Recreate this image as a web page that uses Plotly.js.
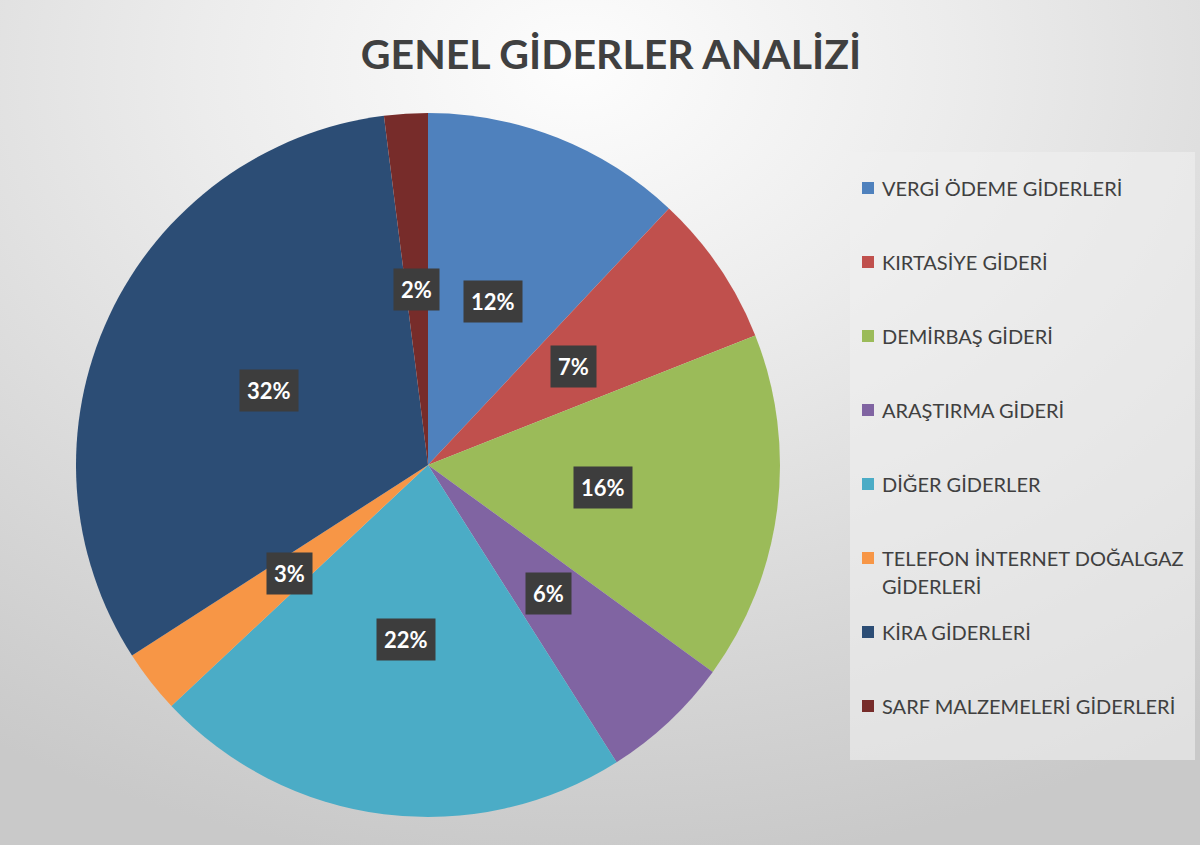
<!DOCTYPE html>
<html>
<head>
<meta charset="utf-8">
<script src="https://cdn.plot.ly/plotly-3.0.1.min.js"></script>
<style>
  html, body { margin: 0; padding: 0; }
  body {
    width: 1200px; height: 845px; overflow: hidden;
    background: radial-gradient(ellipse 90% 95% at 48% 8%, #fdfdfd 0%, #ececec 35%, #d6d6d6 75%, #c9c9c9 100%);
  }
  #chart { width: 1200px; height: 845px; }
</style>
</head>
<body>
<div id="chart"></div>
<script>
// ---- data ----
const categories = [
  "VERGİ ÖDEME GİDERLERİ",
  "KIRTASİYE GİDERİ",
  "DEMİRBAŞ GİDERİ",
  "ARAŞTIRMA GİDERİ",
  "DİĞER GİDERLER",
  "TELEFON İNTERNET DOĞALGAZ GİDERLERİ",
  "KİRA GİDERLERİ",
  "SARF MALZEMELERİ GİDERLERİ"
];
const values = [12, 7, 16, 6, 22, 2.9, 32.1, 2];
const colors = ["#4F81BD", "#C0504D", "#9BBB59", "#8064A2", "#4BACC6", "#F79646", "#2C4D75", "#772C2A"];
const chartTitle = "GENEL GİDERLER ANALİZİ";

// ---- layout constants ----
const W = 1200, H = 845;
const cx = 428, cy = 465, R = 352;
const domX = [(cx - R) / W, (cx + R) / W];
const domY = [1 - (cy + R) / H, 1 - (cy - R) / H];
const FONT = "Lato, 'Open Sans', sans-serif";

const total = values.reduce((a, b) => a + b, 0);

const trace = {
  type: "pie",
  labels: categories,
  values: values,
  sort: false,
  direction: "clockwise",
  rotation: 0,
  marker: { colors: colors, line: { width: 0 } },
  textinfo: "none",
  hoverinfo: "label+percent",
  domain: { x: domX, y: domY },
  showlegend: false
};

const annotations = [];
const shapes = [];

// data labels at half radius, mid-angle of each slice
let cum = 0;
values.forEach((v, i) => {
  const theta = (cum + v / 2) / total * 2 * Math.PI;
  cum += v;
  const px = cx + 0.5 * R * Math.sin(theta);
  const py = cy - 0.5 * R * Math.cos(theta);
  annotations.push({
    xref: "paper", yref: "paper",
    x: px / W, y: 1 - py / H,
    xanchor: "center", yanchor: "middle",
    text: "<b>" + Math.round(v / total * 100) + "%</b>",
    showarrow: false,
    font: { family: FONT, size: 22, color: "#ffffff" },
    bgcolor: "#3d3d3d",
    borderpad: 7
  });
});

// legend box
const LG = { x0: 850, x1: 1195, y0: 152, y1: 760, top: 188, step: 74, line: 28, sq: 12, sqx: 862, tx: 880 };
shapes.push({
  type: "rect", xref: "paper", yref: "paper",
  x0: LG.x0 / W, x1: LG.x1 / W, y0: 1 - LG.y1 / H, y1: 1 - LG.y0 / H,
  fillcolor: "rgba(240,240,240,0.6)", line: { width: 0 }, layer: "below"
});

function wrap(label, maxLen) {
  const words = label.split(" ");
  const lines = [];
  let cur = "";
  words.forEach(w => {
    if (cur && (cur + " " + w).length > maxLen) { lines.push(cur); cur = w; }
    else cur = cur ? cur + " " + w : w;
  });
  if (cur) lines.push(cur);
  return lines;
}

categories.forEach((c, i) => {
  const yc = LG.top + i * LG.step;
  shapes.push({
    type: "rect", xref: "paper", yref: "paper",
    x0: LG.sqx / W, x1: (LG.sqx + LG.sq) / W,
    y0: 1 - (yc + LG.sq / 2) / H, y1: 1 - (yc - LG.sq / 2) / H,
    fillcolor: colors[i], line: { width: 0 }
  });
  wrap(c, 26).forEach((ln, k) => {
    annotations.push({
      xref: "paper", yref: "paper",
      x: LG.tx / W, y: 1 - (yc + k * LG.line) / H,
      xanchor: "left", yanchor: "middle",
      text: ln, showarrow: false,
      font: { family: FONT, size: 20, color: "#404040" }
    });
  });
});

const layout = {
  width: W, height: H,
  margin: { l: 0, r: 0, t: 0, b: 0 },
  paper_bgcolor: "rgba(0,0,0,0)",
  plot_bgcolor: "rgba(0,0,0,0)",
  showlegend: false,
  title: {
    text: "<b>" + chartTitle + "</b>",
    x: 611 / W, xanchor: "center",
    y: 1 - 55 / H, yanchor: "middle",
    font: { family: FONT, size: 41, color: "#404040" }
  },
  annotations: annotations,
  shapes: shapes
};

Plotly.newPlot("chart", [trace], layout, { displayModeBar: false, staticPlot: true });
</script>
</body>
</html>
